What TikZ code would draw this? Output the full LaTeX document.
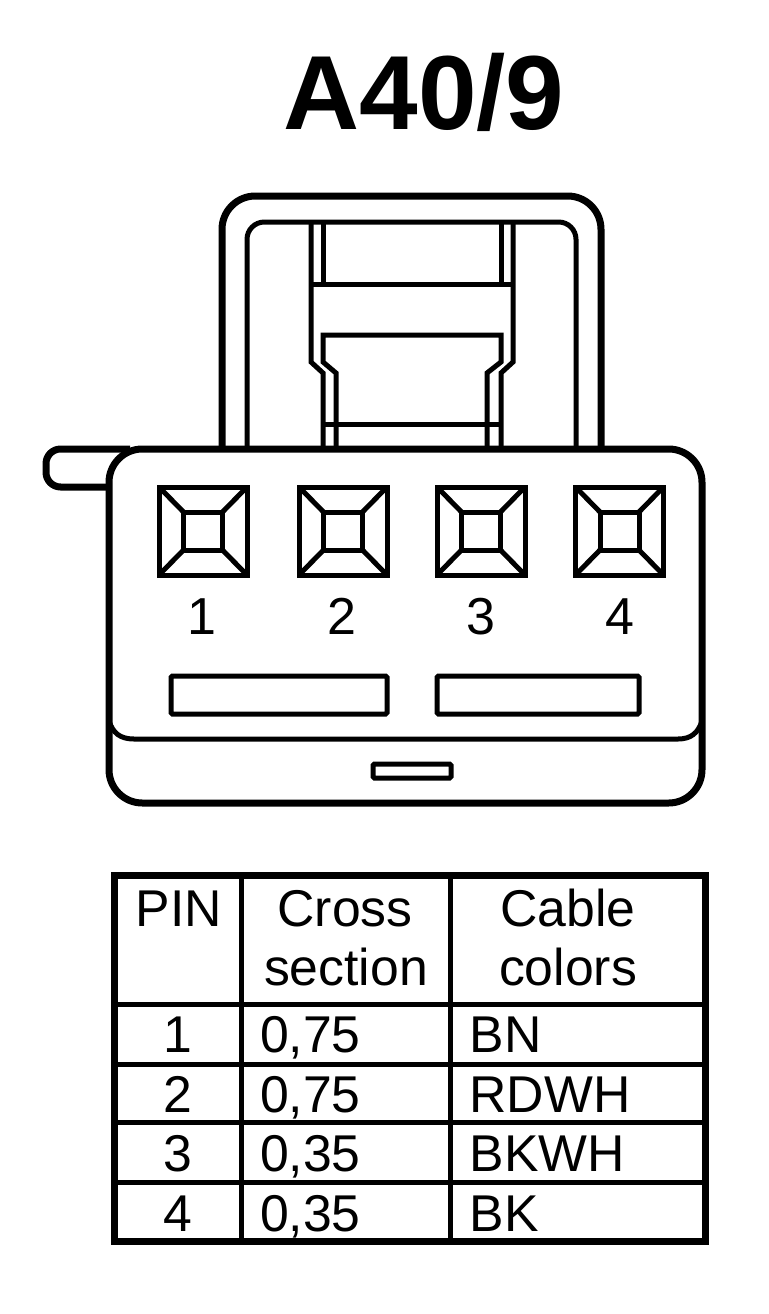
\documentclass[tikz,border=0pt]{standalone}
\usepackage{fontspec}
\setmainfont{Liberation Sans}

\begin{document}
\begin{tikzpicture}[
        x=0.75pt,y=-0.75pt,
        heavy/.style = {line width=5.25pt},
        light/.style = {line width=3.75pt},
        title/.style = {anchor=base, inner sep=0pt, outer sep=0pt, font=\fontsize{79}{79}\selectfont\bfseries},
        pinlabel/.style = {anchor=base, inner sep=0pt, outer sep=0pt, font=\fontsize{39}{39}\selectfont},
        cellmid/.style = {anchor=base, inner sep=0pt, outer sep=0pt, font=\fontsize{38.8}{38.8}\selectfont},
        cellleft/.style = {anchor=base west, inner sep=0pt, outer sep=0pt, font=\fontsize{38.8}{38.8}\selectfont},
    ]
    \useasboundingbox (0,0) rectangle (768,1314);
    \node[title] (heading) at (424,129) {A40/9};
    % handle
    \draw[heavy,rounded corners=25] (222,449) -- (222,196) -- (601,196) -- (601,449);
    \draw[light,rounded corners=13] (247,449) -- (247,222) -- (576,222) -- (576,449);
    % latch
    \draw[light] (311,222) -- (311,362) -- (323,373) -- (323,449);
    \draw[light] (513,222) -- (513,362) -- (501,373) -- (501,449);
    \draw[light] (323,222) -- (323,284);
    \draw[light] (501,222) -- (501,284);
    \draw[light] (311,284) -- (513,284);
    \draw[light] (336,449) -- (336,373) -- (323,362) -- (323,335) -- (501,335) -- (501,362) -- (487,373) -- (487,449);
    \draw[light] (323,424) -- (501,424);
    % tab
    \draw[heavy,rounded corners=11] (130,449) -- (46,449) -- (46,487) -- (109,487);
    % body
    \draw[heavy,rounded corners=25] (109,560) -- (109,449) -- (702,449) -- (702,803) -- (109,803) -- cycle;
    \draw[light] (109,721) .. controls (113,733) and (120,739) .. (134,739) -- (678,739) .. controls (691,739) and (698,733) .. (702,721);
    % pins
    \foreach \cx/\lx/\pin in {203/201.5/1,343/342/2,481/481/3,619.5/620/4} {
        \draw[light] (\cx-44,487) rectangle (\cx+44,575);
        \draw[light] (\cx-19.5,512) rectangle (\cx+19.5,550);
        \draw[light] (\cx-44,487) -- (\cx-19.5,512);
        \draw[light] (\cx+44,487) -- (\cx+19.5,512);
        \draw[light] (\cx-44,575) -- (\cx-19.5,550);
        \draw[light] (\cx+44,575) -- (\cx+19.5,550);
        \node[pinlabel] (pin\pin) at (\lx,634) {\pin};
    }
    % slots
    \draw[light,rounded corners=1] (171,676) rectangle (387,714);
    \draw[light,rounded corners=1] (437,676) rectangle (639,714);
    \draw[light,rounded corners=1] (373,764) rectangle (451,778);
    % table
    \draw[heavy] (114.5,875) rectangle (705,1241);
    \draw[light] (241,875) -- (241,1241);
    \draw[light] (450,875) -- (450,1241);
    \draw[light] (114.5,1004) -- (705,1004);
    \draw[light] (114.5,1064) -- (705,1064);
    \draw[light] (114.5,1122) -- (705,1122);
    \draw[light] (114.5,1182) -- (705,1182);
    \node[cellmid] (headpin) at (179,926) {PIN};
    \node[cellmid] (headcross) at (345,926) {Cross};
    \node[cellmid] (headsection) at (346,985) {section};
    \node[cellmid] (headcable) at (568,926) {Cable};
    \node[cellmid] (headcolors) at (568,985) {colors};
    \foreach \n/\base/\size/\col in {1/1052/{0,75}/BN,2/1112/{0,75}/RDWH,3/1171/{0,35}/BKWH,4/1231/{0,35}/BK} {
        \node[cellmid] (row\n) at (177.5,\base) {\n};
        \node[cellleft] (size\n) at (260,\base) {\size};
        \node[cellleft] (color\n) at (469.5,\base) {\col};
    }
\end{tikzpicture}
\end{document}
